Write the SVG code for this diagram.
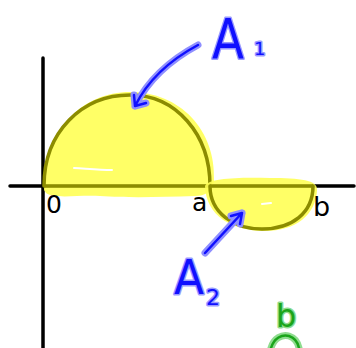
<svg xmlns="http://www.w3.org/2000/svg" width="356" height="348" viewBox="0 0 356 348">
<style>
.axis{stroke:#000;stroke-width:3.5;stroke-linecap:round;fill:none}
.hl{fill:#ffff55;opacity:0.9}
.curve{fill:none;stroke:#8c8c00;stroke-width:3.5;stroke-linecap:round}
.streak{stroke:#fff;stroke-width:2;stroke-linecap:round;fill:none}
.lbl{font-family:"DejaVu Sans",sans-serif;fill:#000}
.halo{fill:none;stroke:#8f8fff;stroke-width:7;stroke-linecap:round;stroke-linejoin:round}
.core{fill:none;stroke:#1010ff;stroke-width:2.5;stroke-linecap:round;stroke-linejoin:round}
.btxt{font-family:"DejaVu Sans",sans-serif;fill:#1010ff;stroke:#9a9aff;stroke-width:3;paint-order:stroke;stroke-linejoin:round}
.gtxt{font-family:"DejaVu Sans",sans-serif;fill:#1aa51a;stroke:#8fdc8f;stroke-width:3;paint-order:stroke;stroke-linejoin:round}
.ghalo{fill:none;stroke:#8fdc8f;stroke-width:7;stroke-linecap:round}
.gcore{fill:none;stroke:#1aa51a;stroke-width:2.5;stroke-linecap:round}
</style>
<g id="axes">
<line class="axis" x1="43" y1="58" x2="43" y2="348"/>
<line class="axis" x1="10" y1="186" x2="354" y2="186"/>
</g>
<g id="region-A1">
<path class="hl" d="M44,190 C44,130 82,92 130,92 C180,92 216,130 214,180 C213,192 205,196 195,196 C160,197 130,198 100,196 C75,195 55,199 46,193 Z"/>
<path class="curve" d="M44,186 C44,132 82,95 130,95 C176,95 210,134 210,186"/>
<line x1="44" y1="186" x2="210" y2="186" stroke="#8c8c00" stroke-width="3.5"/>
<path class="streak" d="M74,168 C90,169 100,170 112,170"/>
</g>
<g id="region-A2">
<path class="hl" d="M205,186 C208,178 240,177 270,178 C300,178 318,180 317,190 C316,215 295,232 262,231 C232,230 206,216 205,186 Z"/>
<path class="curve" d="M210,186 C210,213 234,229 262,229 C292,229 313,213 313,186"/>
<line x1="210" y1="186" x2="313" y2="186" stroke="#8c8c00" stroke-width="3.5"/>
<path class="streak" d="M262,204 L271,203"/>
</g>
<g id="labels">
<text class="lbl" x="46" y="213" font-size="25">0</text>
<text class="lbl" x="192" y="211" font-size="25">a</text>
<text class="lbl" x="313" y="216" font-size="27">b</text>
</g>
<g id="connectors">
<path class="halo" d="M198,45 C170,60 148,80 135,106 M135,106 L134,95 M135,106 L146,103"/>
<path class="core" d="M198,45 C170,60 148,80 135,106 M135,106 L134,95 M135,106 L146,103"/>
<path class="halo" d="M205,253 L242,213 M242,213 L231,216 M242,213 L240,224"/>
<path class="core" d="M205,253 L242,213 M242,213 L231,216 M242,213 L240,224"/>
</g>
<g id="label-A1">
<text class="btxt" x="212" y="58" font-size="56" textLength="32" lengthAdjust="spacingAndGlyphs">A</text>
<text class="btxt" x="254" y="55" font-size="18">1</text>
</g>
<g id="label-A2">
<text class="btxt" x="174" y="294" font-size="48" textLength="30" lengthAdjust="spacingAndGlyphs">A</text>
<text class="btxt" x="206" y="305" font-size="22">2</text>
</g>
<g id="green-b">
<text class="gtxt" x="276" y="327" font-size="32">b</text>
<path class="ghalo" d="M271,348 C274,338 282,334 289,336 C295,338 298,343 299,348"/>
<path class="gcore" d="M271,348 C274,338 282,334 289,336 C295,338 298,343 299,348"/>
</g>
</svg>
